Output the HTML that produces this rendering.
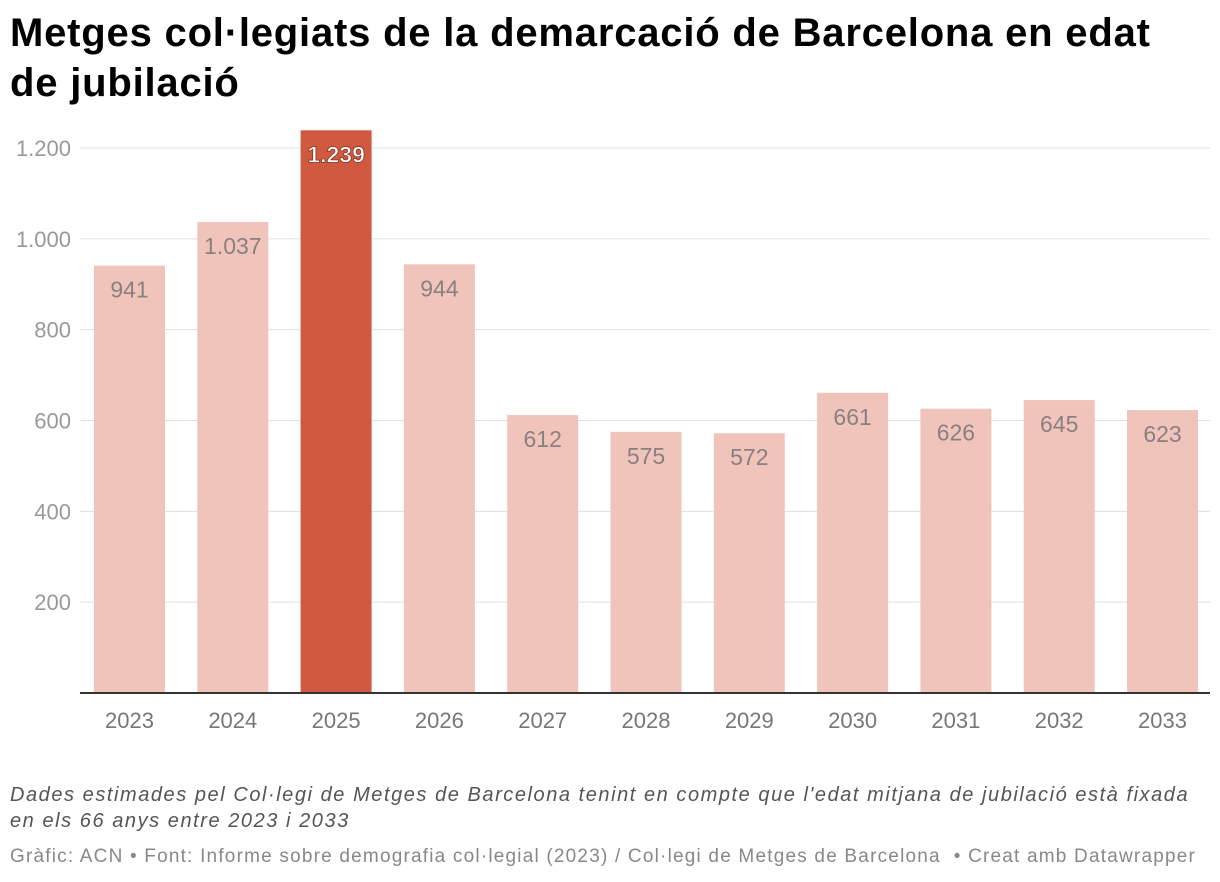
<!DOCTYPE html>
<html><head><meta charset="utf-8">
<style>
body{margin:0;background:#fff;width:1220px;height:882px;overflow:hidden;font-family:"Liberation Sans",sans-serif;}
h1{position:absolute;left:10px;top:8px;margin:0;font-size:40px;line-height:50px;font-weight:bold;color:#000;width:1200px;letter-spacing:0.8px;white-space:nowrap}
.note{position:absolute;left:10px;top:782px;font-size:20px;font-style:italic;color:#555;line-height:26px;width:1210px;letter-spacing:1.55px;white-space:nowrap}
.cred{position:absolute;left:10px;top:846px;font-size:19px;color:#888;letter-spacing:1.2px;white-space:nowrap}
svg{position:absolute;left:0;top:0}
</style></head><body>
<h1>Metges col·legiats de la demarcació de Barcelona en edat<br>de jubilació</h1>
<svg id="chart" width="1220" height="770"></svg>
<div class="note">Dades estimades pel Col·legi de Metges de Barcelona tenint en compte que l'edat mitjana de jubilació està fixada<br>en els 66 anys entre 2023 i 2033</div>
<div class="cred">Gràfic: ACN • Font: Informe sobre demografia col·legial (2023) / Col·legi de Metges de Barcelona &nbsp;• Creat amb Datawrapper</div>
<script>
const categories=["2023","2024","2025","2026","2027","2028","2029","2030","2031","2032","2033"];
const values=[941,1037,1239,944,612,575,572,661,626,645,623];
const labels=["941","1.037","1.239","944","612","575","572","661","626","645","623"];
const ticks=[200,400,600,800,1000,1200];
const tickLabels=["200","400","600","800","1.000","1.200"];
const highlight="2025";
const svg=document.getElementById('chart');
const NS="http://www.w3.org/2000/svg";
const y0=693, k=(693-148)/1200;
const y=v=>y0-v*k;
const x=i=>94+i*103.3;
const bw=71;
function mk(t,a){const e=document.createElementNS(NS,t);for(const n in a)e.setAttribute(n,a[n]);svg.appendChild(e);return e;}
ticks.forEach((t,i)=>{
 const g=mk('line',{x1:80,x2:1210,y1:y(t),y2:y(t),stroke:'#e0e0e0','stroke-width':1});
 
 
 const l=mk('text',{x:71,y:y(t)+8,'text-anchor':'end','font-size':22,fill:'#999'});
 l.textContent=tickLabels[i];
 
 
});
categories.forEach((c,i)=>{
 const hi=c===highlight;
 const r=mk('rect',{x:x(i),y:y(values[i]),width:bw,height:y0-y(values[i]),fill:hi?'#d05a40':'#f0c4bb'});
 
 
 const v=mk('text',{x:x(i)+bw/2,y:y(values[i])+32,'text-anchor':'middle','font-size':23,fill:hi?'#fff':'#8a8080','font-weight':hi?'bold':'normal'});
 if(hi){v.setAttribute('stroke','#7a2a1a');v.setAttribute('stroke-width','0.7');}
 v.textContent=labels[i];
 
 
 const t=mk('text',{x:x(i)+bw/2,y:728,'text-anchor':'middle','font-size':22,fill:'#777'});
 t.textContent=c;
 
 
});
const ax=mk('line',{x1:80,x2:1210,y1:y0,y2:y0,stroke:'#333','stroke-width':2});


</script>
</body></html>
